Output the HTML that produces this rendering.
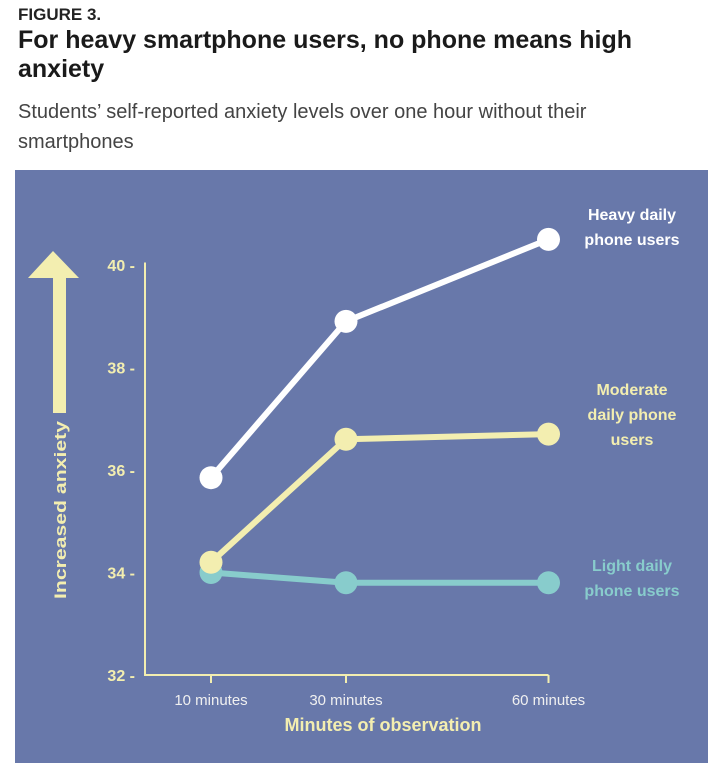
<!DOCTYPE html>
<html><head><meta charset="utf-8"><style>
body{margin:0;width:715px;height:781px;background:#fff;font-family:"Liberation Sans",sans-serif;overflow:hidden;position:relative}
.t{position:absolute;left:18px}
</style></head><body>
<div class="t" style="top:5px;font-size:17px;font-weight:bold;color:#222">FIGURE 3.</div>
<div class="t" style="top:26px;font-size:25px;font-weight:bold;color:#1a1a1a;line-height:29px;width:690px">For heavy smartphone users, no phone means high anxiety</div>
<div class="t" style="top:97px;font-size:20px;color:#444;line-height:30px;width:625px">Students’ self-reported anxiety levels over one hour without their smartphones</div>
<svg width="715" height="781" style="position:absolute;left:0;top:0">
<rect x="15" y="170" width="693" height="593" fill="#6878aa"/>
<g id="g"></g>
</svg>
<script>
const minutes=[10,30,60];
const xLabels=["10 minutes","30 minutes","60 minutes"];
const yTicks=[32,34,36,38,40];
const heavy=[35.85,38.9,40.5];
const moderate=[34.2,36.6,36.7];
const light=[34.0,33.8,33.8];
const X=m=>211+(m-10)*6.75;
const Y=v=>675-(v-32)*51.25;
const g=document.getElementById('g');const NS='http://www.w3.org/2000/svg';
function mk(t,a,txt){const e=document.createElementNS(NS,t);for(const k in a)e.setAttribute(k,a[k]);if(txt!=null)e.textContent=txt;g.appendChild(e);return e;}
const Y0=Y(32);
let e=mk('line',{x1:145,y1:Y(40.05),x2:145,y2:Y0,stroke:'#f3eeb0','stroke-width':2});

e=mk('line',{x1:144,y1:Y0,x2:X(60),y2:Y0,stroke:'#f3eeb0','stroke-width':2});

yTicks.forEach(v=>{const t=mk('text',{x:135,y:Y(v)+6,'text-anchor':'end','font-size':16,'font-weight':'bold',fill:'#f3eeb0'},v+' -');
});
minutes.forEach((m,i)=>{const l=mk('line',{x1:X(m),y1:Y0,x2:X(m),y2:Y0+8,stroke:'#f3eeb0','stroke-width':2});

const t=mk('text',{x:X(m),y:Y0+30,'text-anchor':'middle','font-size':15,fill:'#f0f0f0'},xLabels[i]);
});
e=mk('text',{x:383,y:731,'text-anchor':'middle','font-size':18,'font-weight':'bold',fill:'#f3eeb0'},'Minutes of observation');

e=mk('rect',{x:53,y:276,width:13,height:137,fill:'#f3eeb0'});

e=mk('polygon',{points:'28,278 53,251 79,278',fill:'#f3eeb0'});

e=mk('text',{x:0,y:0,transform:'translate(66,599) rotate(-90)','font-size':17,'font-weight':'bold',fill:'#f3eeb0',textLength:178,lengthAdjust:'spacingAndGlyphs'},'Increased anxiety');

function series(vals,col,name){const p=mk('polyline',{points:vals.map((v,i)=>X(minutes[i])+','+Y(v)).join(' '),fill:'none',stroke:col,'stroke-width':6});

vals.forEach((v,i)=>{const c=mk('circle',{cx:X(minutes[i]),cy:Y(v),r:11.5,fill:col});
});}
series(light,'#88cccc','light');
series(moderate,'#f3eeb0','moderate');
series(heavy,'#ffffff','heavy');
function lab(lines,y,col,name){lines.forEach((s,i)=>{const t=mk('text',{x:632,y:y+i*25,'text-anchor':'middle','font-size':16,'font-weight':'bold',fill:col},s);
});}
lab(['Heavy daily','phone users'],220,'#ffffff','heavy-legend-label');
lab(['Moderate','daily phone','users'],395,'#f3eeb0','moderate-legend-label');
lab(['Light daily','phone users'],571,'#88cccc','light-legend-label');
</script>
</body></html>
